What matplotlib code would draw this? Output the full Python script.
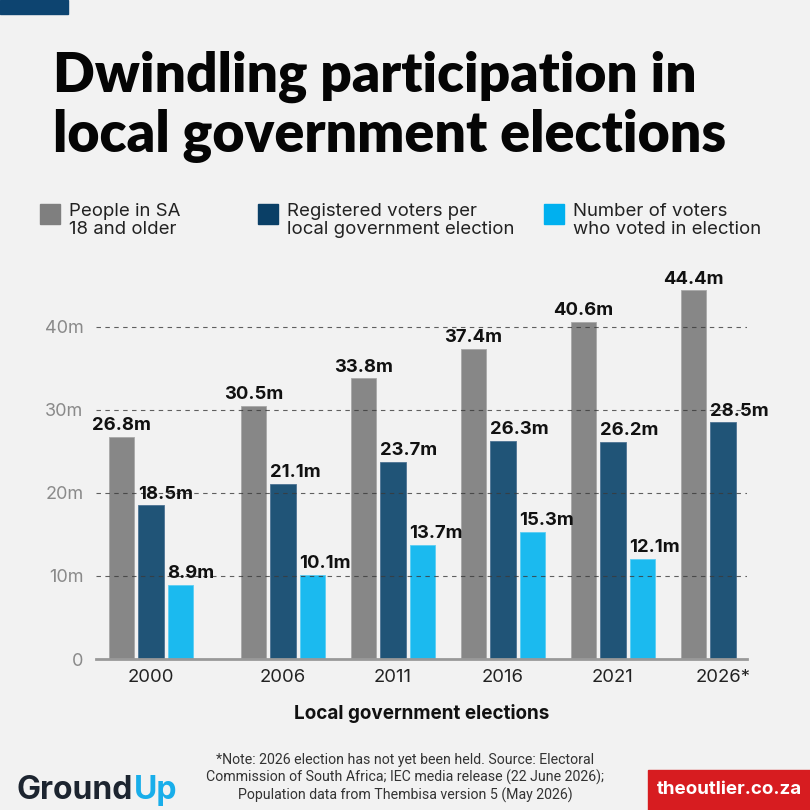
import numpy as np
import matplotlib.pyplot as plt
from matplotlib.patches import Rectangle

# data (millions)
years = [2000, 2006, 2011, 2016, 2021, 2026]
year_labels = ["2000", "2006", "2011", "2016", "2021", "2026*"]
adults = [26.8, 30.5, 33.8, 37.4, 40.6, 44.4]
registered = [18.5, 21.1, 23.7, 26.3, 26.2, 28.5]
voted = [8.9, 10.1, 13.7, 15.3, 12.1, np.nan]

series_names = ["People in SA\n18 and older",
                "Registered voters per\nlocal government election",
                "Number of voters\nwho voted in election"]

BG = "#f2f2f2"
GREY = "#878787"
DARK = "#205477"
LIGHT = "#1bbaef"
W, H = 810, 810

fig = plt.figure(figsize=(8.1, 8.1), dpi=100, facecolor=BG)


def px(x, y):
    return x / W, 1 - y / H


# top left accent block
fig.patches.append(Rectangle(px(0, 14), 68 / W, 14 / H, transform=fig.transFigure,
                             color="#0d4470", zorder=5))

# title - sized so that each line spans the same width as in the original
title_font = ["Lato", "DejaVu Sans"]
lines = [("Dwindling participation in", 92, 643), ("local government elections", 152, 673)]
fig.canvas.draw()
for txt, base, width in lines:
    t = fig.text(*px(53, base), txt, family=title_font, fontweight="heavy",
                 fontsize=40, color="#050505", va="baseline")
    w = t.get_window_extent(fig.canvas.get_renderer()).width
    t.set_fontsize(40 * width / w)

# legend
legend_cols = ["#7f7f7f", "#0a3f66", "#00b0ef"]
for xpos, col, name in zip([40, 258, 544], legend_cols, series_names):
    fig.patches.append(Rectangle(px(xpos, 224), 20 / W, 20 / H,
                                 transform=fig.transFigure, color=col))
    fig.text(*px(xpos + 29, 203), name, family="Inter", fontsize=13.4,
             color="#222222", va="top", linespacing=1.08)

# axes laid out so that one year = 22 px and 1m = 8.3 px
ax = fig.add_axes([96 / W, (H - 659) / H, (747 - 96) / W, (659 - 280) / H])
ax.set_facecolor(BG)
ax.set_xlim(1997.5, 2027.1)
ax.set_ylim(0, 45.66)

x = np.array(years, dtype=float)
off = 1.34
bw = 1.16
ax.bar(x - off, adults, bw, color=GREY, edgecolor="#a8a8a8", linewidth=0.6, zorder=2)
ax.bar(x, registered, bw, color=DARK, edgecolor="#4d7393", linewidth=0.6, zorder=2)
ax.bar(x + off, voted, bw, color=LIGHT, edgecolor="#5ccdf3", linewidth=0.6, zorder=2)

lab_kw = dict(family="Inter", fontweight="bold", fontsize=13.3, color="#111111",
              va="bottom", zorder=6)
for xi, a, r, v in zip(x, adults, registered, voted):
    ax.text(xi - off, a + 0.35, f"{a}m", ha="center", **lab_kw)
    ax.text(xi - bw / 2 - 0.02, r + 0.35, f"{r}m", ha="left", **lab_kw)
    if not np.isnan(v):
        ax.text(xi + off - bw / 2 - 0.02, v + 0.35, f"{v}m", ha="left", **lab_kw)

# dashed gridlines over the bars
for yv in [10, 20, 30, 40]:
    ax.axhline(yv, color="#3a3a3a", lw=0.8, ls=(0, (4, 4)), alpha=0.8, zorder=3)

for s in ["top", "right", "left"]:
    ax.spines[s].set_visible(False)
ax.spines["bottom"].set_color("#999999")
ax.spines["bottom"].set_linewidth(2)
ax.spines["bottom"].set_zorder(4)

ax.set_yticks([0, 10, 20, 30, 40])
ax.set_yticklabels(["0", "10m", "20m", "30m", "40m"], family="Inter",
                   fontsize=13, color="#8a8a8a")
ax.set_xticks(x)
ax.set_xticklabels(year_labels, family="Inter", fontsize=13.3, color="#222222")
ax.tick_params(axis="y", length=0, pad=9)
ax.tick_params(axis="x", length=0, pad=7)
ax.set_xlabel("Local government elections", family="Inter", fontweight="bold",
              fontsize=13.6, color="#111111", labelpad=13)

# source note
fig.text(*px(405, 778), "*Note: 2026 election has not yet been held. Source: Electoral\n"
         "Commission of South Africa; IEC media release (22 June 2026);\n"
         "Population data from Thembisa version 5 (May 2026)",
         family="Roboto", fontsize=10.2, color="#333333", ha="center", va="center",
         linespacing=1.25)

# GroundUp logo
t1 = fig.text(*px(17, 799), "Ground", family="Inter", fontweight="bold",
              fontsize=23, color="#1d2530", va="baseline")
fig.canvas.draw()
bb = t1.get_window_extent()
fig.text(bb.x1 / W, 1 - 799 / H, "Up", family="Inter", fontweight="bold",
         fontsize=23, color="#19aeea", va="baseline")

# outlier badge
fig.patches.append(Rectangle(px(648, 810), 162 / W, 40 / H, transform=fig.transFigure,
                             color="#d71c20"))
fig.text(*px(729, 790), "theoutlier.co.za", family="Inter", fontweight="bold",
         fontsize=13.5, color="white", ha="center", va="center")

fig.savefig("out.png", dpi=100, facecolor=BG)
